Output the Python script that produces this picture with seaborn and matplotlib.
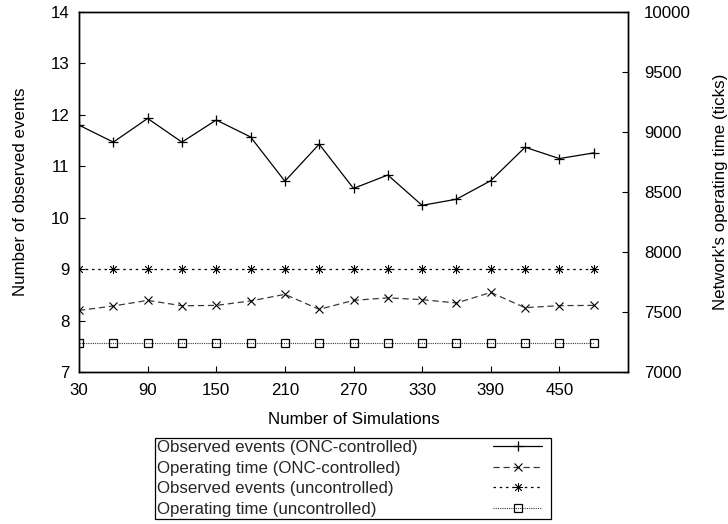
import matplotlib
matplotlib.use("Agg")
import matplotlib.pyplot as plt
import seaborn as sns

sns.set_theme(style="white")
plt.rcParams['font.family'] = ['Liberation Sans', 'DejaVu Sans']

# ---- data ----
simulations = [30, 60, 90, 120, 150, 180, 210, 240, 270, 300, 330, 360, 390, 420, 450, 480]
obs_onc = [11.80, 11.47, 11.93, 11.47, 11.90, 11.57, 10.71, 11.43, 10.57, 10.83,
           10.24, 10.36, 10.72, 11.37, 11.15, 11.26]
op_onc = [7513, 7550, 7597, 7552, 7555, 7592, 7647, 7522, 7597, 7618,
          7603, 7575, 7663, 7536, 7553, 7555]
obs_unc = [9.0, 9.0, 9.0, 9.0, 9.0, 9.0, 9.0, 9.0, 9.0, 9.0, 9.0, 9.0, 9.0, 9.0, 9.0, 9.0]
op_unc = [7242, 7242, 7242, 7242, 7242, 7242, 7242, 7242, 7242, 7242,
          7242, 7242, 7242, 7242, 7242, 7242]

labels = ["Observed events (ONC-controlled)", "Operating time (ONC-controlled)",
          "Observed events (uncontrolled)", "Operating time (uncontrolled)"]
x_ticks = [30, 90, 150, 210, 270, 330, 390, 450]
y1_ticks = [7, 8, 9, 10, 11, 12, 13, 14]
y2_ticks = [7000, 7500, 8000, 8500, 9000, 9500, 10000]

FS = 12.2
DPI = 100
fig = plt.figure(figsize=(7.28, 5.24), dpi=DPI)
ax = fig.add_axes([79/728, 1-372/524, (628-79)/728, (372-12)/524])
ax2 = ax.twinx()

sns.lineplot(x=simulations, y=obs_onc, ax=ax, color='black', lw=0.9,
             marker='+', ms=6.5, mew=0.9, mec='black', label=labels[0])
sns.lineplot(x=simulations, y=op_onc, ax=ax2, color='#3a3a3a', lw=0.9,
             marker='x', ms=5.5, mew=0.8, mec='black', label=labels[1])
ax2.lines[-1].set_dashes([5, 3])
sns.lineplot(x=simulations, y=obs_unc, ax=ax, color='black', lw=0.9,
             marker=(8, 2, 0), ms=6.5, mew=0.6, mec='black', label=labels[2])
ax.lines[-1].set_dashes([2, 3])
sns.lineplot(x=simulations, y=op_unc, ax=ax2, color='#3a3a3a', lw=0.8,
             marker='s', ms=5.5, mew=0.9, mfc='none', mec='black', label=labels[3])
ax2.lines[-1].set_dashes([1, 1])

for a in (ax, ax2):
    lg = a.get_legend()
    if lg is not None:
        lg.remove()

ax.set_xlim(30, 510)
ax.set_ylim(7, 14)
ax2.set_ylim(7000, 10000)
ax.set_xticks(x_ticks)
ax.set_yticks(y1_ticks)
ax2.set_yticks(y2_ticks)

for a in (ax, ax2):
    for s in a.spines.values():
        s.set_visible(True)
        s.set_color('black')
        s.set_linewidth(1.0)

ax.tick_params(axis='y', direction='in', length=4.5, width=0.8, color='black',
               labelsize=FS, labelcolor='black', pad=7, left=True, right=False)
ax.tick_params(axis='x', direction='in', length=4.5, width=0.8, color='black',
               labelsize=FS, labelcolor='black', pad=8, bottom=True, top=False)
ax2.tick_params(axis='y', direction='in', length=4.5, width=0.8, color='black',
                labelsize=FS, labelcolor='black', pad=11.5, right=True, left=False)

ax.set_xlabel("Number of Simulations", fontsize=FS, color='black', labelpad=10)
ax.set_ylabel("Number of observed events", fontsize=FS, color='black', labelpad=16)
ax2.set_ylabel("Network's operating time (ticks)", fontsize=FS, color='black', labelpad=16)
ax.grid(False)
ax2.grid(False)

h1 = ax.get_lines()
h2 = ax2.get_lines()
handles = [h1[0], h2[0], h1[1], h2[1]]
leg = fig.legend(handles, labels, loc='upper left',
                 bbox_to_anchor=(155/728, 1-522/524, (551-155)/728, (522-438)/524),
                 mode='expand', borderaxespad=0, markerfirst=False, fontsize=FS,
                 frameon=True, fancybox=False, edgecolor='black', framealpha=1,
                 handlelength=49*72/DPI/FS, labelspacing=0.33, borderpad=0.12,
                 handletextpad=0.5)
leg.get_frame().set_linewidth(0.9)

# left-align labels and push the line samples to the right edge
fig.canvas.draw()
renderer = fig.canvas.get_renderer()
columns = leg._legend_handle_box.get_children()
for col in columns:
    col.align = 'left'
fig.canvas.draw()
for col in columns:
    for row in col.get_children():
        textbox, handlebox = row.get_children()
        bb = textbox.get_window_extent(renderer)
        gap_px = 493 - bb.x1
        row.sep = gap_px * 72 / DPI
fig.canvas.draw()

fig.savefig("out.png", dpi=DPI)
